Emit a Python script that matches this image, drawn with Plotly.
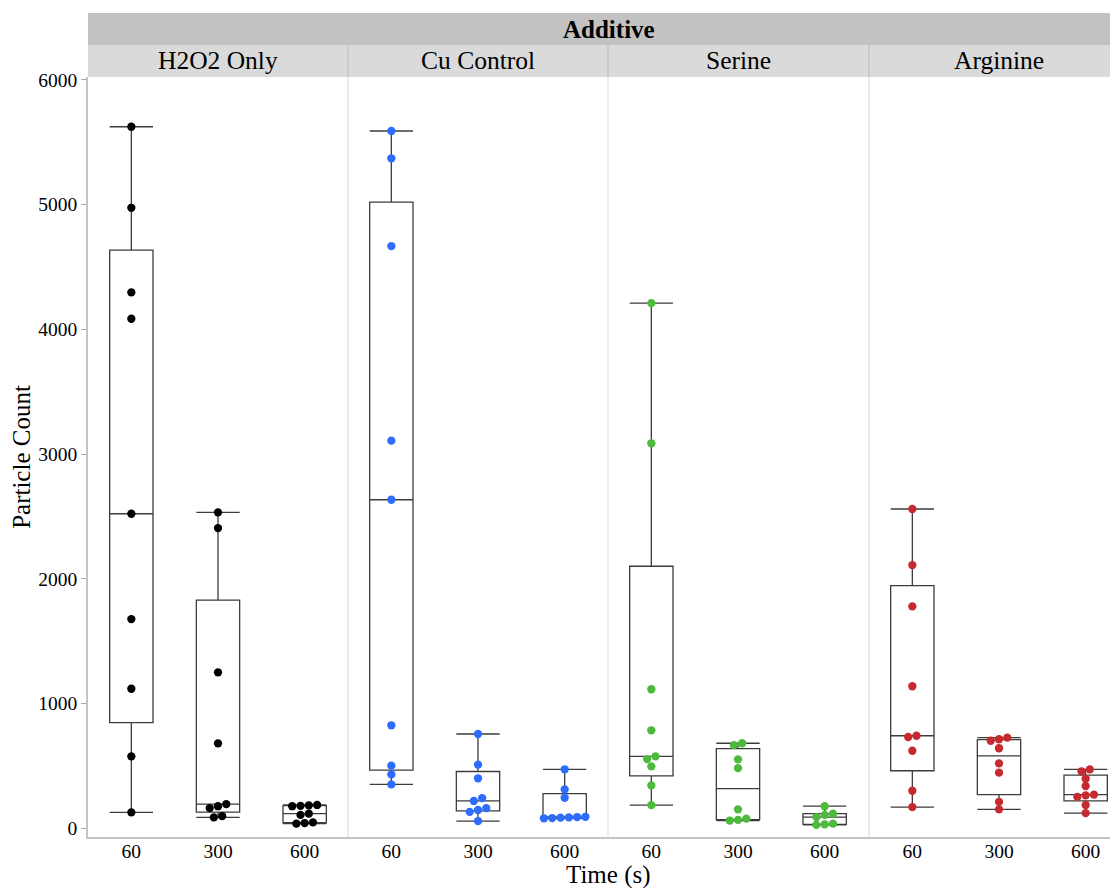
import numpy as np
import plotly.graph_objects as go

# ---------------- data ----------------
times = ["60", "300", "600"]
additives = ["H2O2 Only", "Cu Control", "Serine", "Arginine"]
colors = ["#000000", "#2D6CFF", "#4CBB3B", "#C62A2F"]

h2o2_60 = [126, 575, 1117, 1676, 2521, 4085, 4297, 4975, 5625]
h2o2_300 = [85, 95, 160, 175, 192, 679, 1249, 2406, 2532]
h2o2_600 = [35, 40, 45, 105, 115, 175, 178, 182, 185]

cu_60 = [350, 430, 500, 824, 2633, 3107, 4668, 5372, 5591]
cu_300 = [56, 130, 145, 160, 217, 240, 399, 508, 754]
cu_600 = [78, 80, 83, 85, 88, 90, 243, 310, 471]

serine_60 = [184, 342, 495, 553, 575, 784, 1113, 3086, 4210]
serine_300 = [60, 65, 75, 150, 481, 551, 665, 680]
serine_600 = [25, 30, 35, 88, 105, 115, 175]

arginine_60 = [168, 299, 620, 730, 740, 1137, 1778, 2109, 2559]
arginine_300 = [150, 210, 444, 519, 640, 700, 712, 725]
arginine_600 = [120, 185, 250, 262, 268, 337, 395, 455, 470]

groups = [
    [h2o2_60, h2o2_300, h2o2_600],
    [cu_60, cu_300, cu_600],
    [serine_60, serine_300, serine_600],
    [arginine_60, arginine_300, arginine_600],
]

# ---------------- geometry ----------------
OFF = 8                                   # default page body margin
W, H = 1118 - OFF, 888 - OFF
ML, MR, MT, MB = 88 - OFF, 0, 77 - OFF, 51
PW = W - ML - MR
PH = H - MT - MB
panel_px = [260, 260, 261, 249]          # last panel cropped at right edge
cat_px = 260 / 3.0                        # pixels per category unit
y_range = [-72, 6024]
px_per_val = PH / (y_range[1] - y_range[0])
dot_d = 8.3                               # dot diameter in px
row_thresh = 7.0

FONT = "Liberation Serif"


def box_stats(vals):
    v = np.sort(np.asarray(vals, float))
    q1, med, q3 = np.percentile(v, [25, 50, 75], method="weibull")
    iqr = q3 - q1
    lo = v[v >= q1 - 1.5 * iqr].min()
    hi = v[v <= q3 + 1.5 * iqr].max()
    return q1, med, q3, lo, hi


def swarm_offsets(vals):
    vals = np.asarray(vals, float)
    order = np.argsort(vals, kind="stable")
    rows = []
    for idx in order:
        y = vals[idx] * px_per_val
        if rows and y - rows[-1][0][1] < row_thresh:
            rows[-1].append((idx, y))
        else:
            rows.append([(idx, y)])
    off = np.zeros(len(vals))
    for row in rows:
        k = len(row)
        for i, (idx, _) in enumerate(row):
            off[idx] = (i - (k - 1) / 2.0) * dot_d / cat_px
    return off


fig = go.Figure()

edges = np.cumsum([0] + panel_px)
layout_axes = {}
for p, (name, col, grp) in enumerate(zip(additives, colors, groups)):
    xa = "x" if p == 0 else f"x{p+1}"
    xkey = "xaxis" if p == 0 else f"xaxis{p+1}"
    stats = [box_stats(g) for g in grp]
    fig.add_trace(go.Box(
        x=[0, 1, 2],
        q1=[s[0] for s in stats], median=[s[1] for s in stats],
        q3=[s[2] for s in stats], lowerfence=[s[3] for s in stats],
        upperfence=[s[4] for s in stats],
        width=0.5, whiskerwidth=1, boxpoints=False,
        line=dict(color="#3c3c3c", width=1.3),
        fillcolor="rgba(0,0,0,0)",
        xaxis=xa, yaxis="y", showlegend=False, hoverinfo="skip",
    ))
    xs, ys = [], []
    for i, g in enumerate(grp):
        off = swarm_offsets(g)
        xs += list(i + off)
        ys += list(g)
    fig.add_trace(go.Scatter(
        x=xs, y=ys, mode="markers",
        marker=dict(color=col, size=dot_d, line=dict(width=0)),
        xaxis=xa, yaxis="y", showlegend=False, cliponaxis=False,
    ))
    d0 = edges[p] / PW
    d1 = min(edges[p + 1] / PW, 1.0)
    layout_axes[xkey] = dict(
        domain=[d0, d1], anchor="y",
        range=[-0.5, -0.5 + panel_px[p] / cat_px],
        tickmode="array", tickvals=[0, 1, 2], ticktext=times,
        ticks="", showline=True, linecolor="#C4C4C4", linewidth=1.5,
        showgrid=False, zeroline=False, fixedrange=True,
        ticklabelstandoff=-4,
        tickfont=dict(family=FONT, size=19.5, color="#000000"),
    )

fig.update_layout(**layout_axes)

shapes = []
def py(pix):
    # page pixel (reference coordinates) -> paper y
    return 1 + (MT - (pix - OFF)) / PH

# top "Additive" strip
shapes.append(dict(type="rect", xref="paper", yref="paper", x0=0, x1=1,
                   y0=py(45), y1=py(13), fillcolor="#C2C2C2", line=dict(width=0),
                   layer="below"))
# panel strips
shapes.append(dict(type="rect", xref="paper", yref="paper", x0=0, x1=1,
                   y0=py(77), y1=py(45), fillcolor="#DADADA", line=dict(width=0),
                   layer="below"))
annotations = [dict(text="<b>Additive</b>", xref="paper", yref="paper",
                    x=(edges[-1] + 11) / 2 / PW, y=py(29), showarrow=False,
                    font=dict(family=FONT, size=25, color="#000000"),
                    xanchor="center", yanchor="middle")]
for p, name in enumerate(additives):
    cx = (edges[p] + edges[p] + 260) / 2 / PW
    annotations.append(dict(text=name, xref="paper", yref="paper", x=cx, y=py(61),
                            showarrow=False, xanchor="center", yanchor="middle",
                            font=dict(family=FONT, size=25.5, color="#000000")))
for p in range(1, 4):
    xp = edges[p] / PW
    shapes.append(dict(type="line", xref="paper", yref="paper", x0=xp, x1=xp,
                       y0=py(77), y1=py(45), line=dict(color="#C6C6C6", width=1.5)))
    shapes.append(dict(type="line", xref="paper", yref="paper", x0=xp, x1=xp,
                       y0=0, y1=1, line=dict(color="#DEDEDE", width=1.2),
                       layer="below"))

annotations.append(dict(text="Time (s)", xref="paper", yref="paper",
                        x=(edges[-1] + 11) / 2 / PW, y=py(875), showarrow=False,
                        xanchor="center", yanchor="middle",
                        font=dict(family=FONT, size=25, color="#000000")))

fig.update_layout(
    width=W, height=H,
    margin=dict(l=ML, r=MR, t=MT, b=MB, pad=0, autoexpand=False),
    paper_bgcolor="white", plot_bgcolor="white",
    shapes=shapes, annotations=annotations,
    boxmode="overlay",
    yaxis=dict(
        range=y_range, anchor="x", tickvals=[0, 1000, 2000, 3000, 4000, 5000, 6000],
        ticks="outside", ticklen=5, tickcolor="#A8A8A8", tickwidth=1.2,
        showline=True, linecolor="#C4C4C4", linewidth=1.5,
        showgrid=False, zeroline=False, fixedrange=True,
        tickfont=dict(family=FONT, size=19.5, color="#000000"),
        title=dict(text="Particle Count", standoff=1,
                   font=dict(family=FONT, size=25, color="#000000")),
    ),
)

fig.write_html("out.html")
